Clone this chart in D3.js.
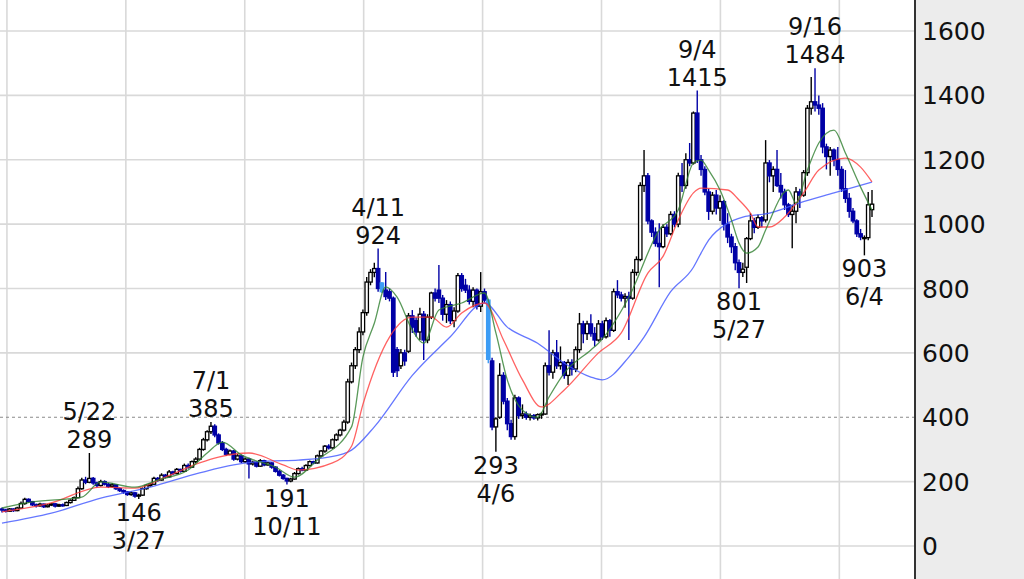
<!DOCTYPE html>
<html>
<head>
<meta charset="utf-8">
<script src="https://d3js.org/d3.v7.min.js"></script>
<style>
  body { margin: 0; background: #fff; }
  svg { display: block; }
  text { font-family: "DejaVu Sans", "Noto Sans", sans-serif; fill: #111; }
</style>
</head>
<body>
<div id="chart"></div>
<script>

// candle data (one entry per bar)
var opens = [
  115,112,108,115,110,118,132,145,138,128,
  125,130,122,127,131,124,128,126,135,142,
  150,178,205,198,210,196,188,200,192,185,
  190,178,172,168,160,165,155,158,178,188,
  192,210,205,220,215,230,225,238,232,250,
  245,262,270,300,330,355,372,345,320,300,
  285,295,270,280,262,270,255,260,248,265,
  252,258,245,232,220,210,202,208,225,240,
  236,250,262,258,280,295,310,305,330,345,
  360,385,510,560,610,665,725,820,850,862,
  817,795,790,770,610,560,600,605,715,700,
  665,720,640,711,786,795,770,720,750,700,
  730,840,810,795,760,795,745,790,764,575,
  370,400,530,450,380,340,460,405,410,400,
  405,398,408,410,560,540,600,560,570,530,
  570,550,610,690,660,690,660,640,690,650,
  700,670,790,780,770,775,770,850,890,1120,
  1150,1010,975,940,930,990,970,1030,1000,1150,
  1120,1200,1190,1345,1200,1170,1100,1040,1090,1050,
  1070,1000,960,930,880,850,866,955,1010,990,
  1020,1013,1190,1150,1170,1120,1100,1060,1030,1040,
  1100,1090,1160,1360,1380,1370,1360,1240,1210,1230,
  1200,1170,1110,1080,1040,1010,970,955,958,1045
];
var highs = [
  120,116,118,117,122,138,150,148,140,132,
  134,132,130,134,133,131,132,138,145,154,
  185,212,215,289,214,200,206,204,196,196,
  192,182,176,170,170,168,162,182,192,196,
  215,214,226,224,236,234,242,240,256,256,
  266,276,305,336,360,385,378,350,326,305,
  300,298,286,284,275,274,265,263,270,268,
  262,260,248,236,224,212,212,230,244,246,
  254,266,265,284,298,314,316,334,350,364,
  392,520,570,618,680,735,836,860,880,924,
  820,851,800,775,618,612,610,724,733,710,
  740,730,720,790,800,873,780,764,760,742,
  848,848,830,810,804,800,851,800,768,585,
  400,568,540,460,392,470,465,440,418,412,
  410,412,415,570,670,610,640,620,575,580,
  580,620,724,700,700,720,680,702,700,710,
  705,800,826,790,785,790,860,900,1130,1230,
  1159,1015,990,1003,1000,1000,1040,1040,1160,1190,
  1220,1252,1350,1415,1215,1180,1110,1100,1106,1090,
  1075,1034,970,941,890,880,960,1034,1020,1030,
  1025,1261,1199,1180,1230,1159,1110,1066,1060,1115,
  1110,1168,1370,1457,1484,1400,1376,1250,1240,1235,
  1240,1180,1168,1097,1050,1015,985,965,1100,1106
];
var lows = [
  104,104,106,106,108,116,128,134,124,120,
  122,118,120,124,120,121,122,124,132,140,
  148,175,192,195,190,182,185,188,180,182,
  174,168,162,156,156,150,146,156,175,184,
  190,200,203,210,213,220,223,228,230,240,
  243,258,266,296,325,348,338,315,295,280,
  282,265,266,258,258,210,250,244,246,248,
  249,240,228,216,206,191,198,206,222,232,
  234,248,254,256,276,290,300,302,326,340,
  356,380,505,550,600,655,715,810,835,790,
  786,764,760,525,525,550,560,600,662,650,
  640,578,630,705,760,755,700,693,690,680,
  725,790,786,750,742,735,727,755,568,360,
  293,395,440,360,330,330,395,395,392,390,
  392,390,395,408,530,520,550,548,520,500,
  530,540,600,630,640,650,620,635,640,645,
  650,665,770,760,740,640,765,840,885,1100,
  1000,960,930,804,925,960,965,990,990,1100,
  1110,1180,1185,1190,1150,1090,1013,1030,1030,1010,
  980,941,910,857,801,836,817,950,972,985,
  990,1005,1130,1100,1115,1080,1044,1022,925,1003,
  1050,1085,1150,1340,1350,1340,1220,1170,1150,1180,
  1150,1100,1066,1020,1003,960,950,903,950,1022
];
var closes = [
  112,108,115,110,118,132,145,138,128,125,
  130,122,127,131,124,128,126,135,142,150,
  178,205,198,210,196,188,200,192,185,190,
  178,172,168,160,165,155,158,178,188,192,
  210,205,220,215,230,225,238,232,250,245,
  262,270,300,330,355,372,345,320,300,285,
  295,270,280,262,270,255,260,248,265,252,
  258,245,232,220,210,202,208,225,240,236,
  250,262,258,280,295,310,305,330,345,360,
  385,510,560,610,665,725,820,850,862,800,
  790,775,770,540,545,600,575,715,680,665,
  720,640,711,786,770,770,720,750,700,730,
  840,800,795,760,795,745,790,764,580,370,
  395,530,450,380,340,460,405,410,400,405,
  398,408,410,560,540,600,560,570,530,570,
  550,610,690,660,690,660,640,690,650,700,
  670,790,780,770,775,770,850,890,1120,1150,
  1010,975,940,930,990,970,1030,1000,1150,1120,
  1200,1190,1345,1200,1170,1100,1040,1090,1050,1070,
  1000,960,930,880,850,860,955,1010,990,1020,
  1010,1190,1150,1170,1120,1100,1060,1030,1040,1100,
  1090,1160,1360,1380,1370,1360,1240,1210,1230,1200,
  1170,1110,1080,1040,1010,970,960,958,1060,1062
];
// bars drawn in the lighter blue
var paleBars = [100, 128];

// moving averages, sampled at bar positions
var shortIdx = [0,8,21,26,35,41,49,54,58,63,72,77,83,92,95,98,101,104,108,111,115,121,127,130,133,137,141,144,148,155,157,165,173,178,182,184,186,189,192,194,196,199,201,207,209,212,215,219,222,226,229];
var shortVal = [118,137,152,199,183,205,236,289,323,283,245,214,267,370,587,692,805,773,671,630,733,755,786,662,516,422,400,463,537,609,630,773,982,1044,1190,1199,1168,1106,1013,941,910,929,982,1106,1066,1168,1252,1292,1221,1115,1044];
var midIdx = [0,13,26,35,43,52,57,65,74,78,87,92,95,102,108,113,117,121,127,132,137,142,148,157,163,170,174,178,182,184,191,194,197,199,202,206,211,215,222,226,229];
var midVal = [106,134,183,180,214,258,276,289,252,236,258,310,440,649,711,711,680,724,755,640,516,432,485,600,662,848,900,1013,1097,1112,1106,1075,1034,991,991,1022,1097,1168,1205,1177,1131];
var longIdx = [0,13,26,39,52,61,70,78,86,92,98,108,118,127,133,141,148,155,158,165,169,176,182,184,186,191,195,202,210,219,229];
var longVal = [71,102,149,183,227,252,264,267,276,298,370,530,650,755,680,630,568,525,516,587,649,790,866,910,950,1003,1022,1034,1066,1097,1131];

// marked highs and lows
var markIdx  = [23, 36, 55, 75, 99, 130, 183, 194, 214, 227];
var markDate = ["5/22","3/27","7/1","10/11","4/11","4/6","9/4","5/27","9/16","6/4"];
var markType = ["high","low","high","low","high","low","high","low","high","low"];

var yTicks = [0,200,400,600,800,1000,1200,1400,1600];
var refLevel = 400;

var W = 1024, H = 579, plotRight = 915;

var x = d3.scaleLinear().domain([0, closes.length - 1]).range([2, 872]);
var y = d3.scaleLinear().domain([0, 1600]).range([546, 31]);

var svg = d3.select("#chart").append("svg")
    .attr("width", W)
    .attr("height", H);

// right hand price panel
svg.append("rect")
    .attr("x", plotRight).attr("y", 0)
    .attr("width", W - plotRight).attr("height", H)
    .attr("fill", "#ececec");

// vertical grid, every ~31 bars
var vGrid = d3.range(8).map(function(k){ return 1.3 + k * 31.3; });
svg.append("g").selectAll("line")
    .data(vGrid).enter().append("line")
    .attr("x1", function(d){ return x(d); })
    .attr("x2", function(d){ return x(d); })
    .attr("y1", 0).attr("y2", H)
    .attr("stroke", "#d9d9d9").attr("stroke-width", 1.6);

// horizontal grid
svg.append("g").selectAll("line")
    .data(yTicks.filter(function(t){ return t !== refLevel; }))
    .enter().append("line")
    .attr("x1", 0).attr("x2", plotRight)
    .attr("y1", function(d){ return y(d); })
    .attr("y2", function(d){ return y(d); })
    .attr("stroke", "#d9d9d9").attr("stroke-width", 1.6);

svg.append("line")
    .attr("x1", 0).attr("x2", plotRight)
    .attr("y1", y(refLevel)).attr("y2", y(refLevel))
    .attr("stroke", "#8a8a8a").attr("stroke-width", 1.2)
    .attr("stroke-dasharray", "3,3");

// candles
var bars = d3.range(closes.length);
var downCol = "#0000a6", paleCol = "#3c9cf5";
function barColor(i){
  if (closes[i] >= opens[i]) return "#000";
  return paleBars.indexOf(i) >= 0 ? paleCol : downCol;
}

var candles = svg.append("g");
candles.selectAll("line")
    .data(bars).enter().append("line")
    .attr("x1", function(i){ return x(i); })
    .attr("x2", function(i){ return x(i); })
    .attr("y1", function(i){ return y(highs[i]); })
    .attr("y2", function(i){ return y(lows[i]); })
    .attr("stroke", barColor)
    .attr("stroke-width", 1.4);

candles.selectAll("rect")
    .data(bars).enter().append("rect")
    .attr("x", function(i){ return x(i) - 1.7; })
    .attr("width", 3.4)
    .attr("y", function(i){ return y(Math.max(opens[i], closes[i])); })
    .attr("height", function(i){ return Math.max(1, Math.abs(y(opens[i]) - y(closes[i]))); })
    .attr("fill", function(i){ return closes[i] >= opens[i] ? "#fff" : barColor(i); })
    .attr("stroke", barColor)
    .attr("stroke-width", 1.3);

// moving average lines
var maLine = d3.line()
    .x(function(d){ return x(d[0]); })
    .y(function(d){ return y(d[1]); })
    .curve(d3.curveMonotoneX);

[[longIdx, longVal, "#3f55ff"], [midIdx, midVal, "#ff3b3b"], [shortIdx, shortVal, "#2f7f2f"]]
  .forEach(function(s){
    svg.append("path")
        .datum(d3.zip(s[0], s[1]))
        .attr("d", maLine)
        .attr("fill", "none")
        .attr("stroke", s[2])
        .attr("stroke-width", 1.3)
        .attr("stroke-opacity", 0.8);
  });

// high / low annotations, two lines each
var marks = svg.append("g").attr("font-size", 24).attr("text-anchor", "middle");
var lineStep = 28;
markIdx.forEach(function(i, k){
  var isHigh = markType[k] === "high";
  var v = isHigh ? highs[i] : lows[i];
  var yv = y(v);
  var lines = isHigh ? [markDate[k], String(v)] : [String(v), markDate[k]];
  var y0 = isHigh ? yv - 5 - lineStep : yv + 22;
  lines.forEach(function(s, j){
    marks.append("text")
        .attr("x", x(i))
        .attr("y", y0 + j * lineStep)
        .text(s);
  });
});

// price axis on the right
svg.append("line")
    .attr("x1", plotRight).attr("x2", plotRight)
    .attr("y1", 0).attr("y2", H)
    .attr("stroke", "#333").attr("stroke-width", 2);

svg.append("g").selectAll("text")
    .data(yTicks).enter().append("text")
    .attr("x", 922)
    .attr("y", function(d){ return y(d); })
    .attr("dy", "0.36em")
    .attr("font-size", 25)
    .text(function(d){ return d; });

</script>
</body>
</html>
